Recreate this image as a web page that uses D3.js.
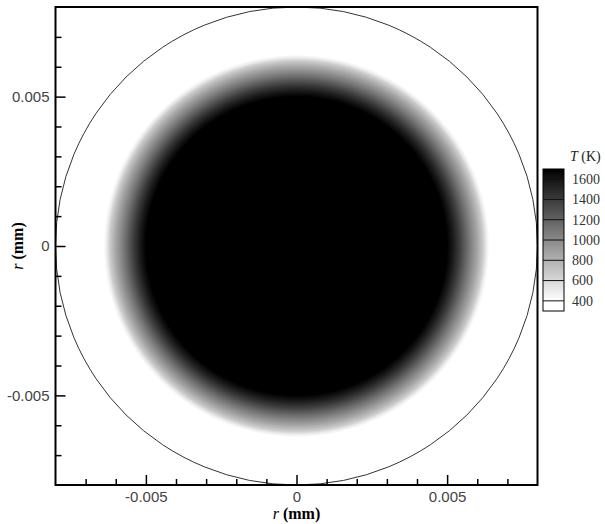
<!DOCTYPE html>
<html>
<head>
<meta charset="utf-8">
<script src="https://cdn.jsdelivr.net/npm/d3@7"></script>
<style>
  body { margin: 0; background: #fff; }
  svg { display: block; }
</style>
</head>
<body>
<div class="chart"></div>
<script>
// radial temperature profile (r in mm, T in K)
var profR = [0, 0.0050, 0.0052, 0.0054, 0.0057, 0.0060, 0.0062, 0.0063, 0.0064];
var profT = [1700, 1700, 1560, 1400, 1120, 860, 660, 500, 340];

// droplet outline radius
var outlineR = 0.008;

// axes
var majorTicks = [-0.005, 0, 0.005];
var minorTicks = [-0.007, -0.006, -0.004, -0.003, -0.002, -0.001,
                  0.001, 0.002, 0.003, 0.004, 0.006, 0.007];

// colour bar
var levels = [400, 600, 800, 1000, 1200, 1400, 1600];
var barMin = 300, barMax = 1700;

var W = 605, H = 524;
var pL = 55.5, pR = 537.5, pT = 7, pB = 485;

var x = d3.scaleLinear().domain([-0.008, 0.008]).range([pL, pR]);
var y = d3.scaleLinear().domain([-0.008, 0.008]).range([pB, pT]);
var color = d3.scaleLinear().domain([400, 1700]).range(["#ffffff", "#000000"]).clamp(true);

var fmt = function (d) { return d === 0 ? "0" : d3.format(".3f")(d).replace("\u2212", "-"); };

var svg = d3.select(".chart").append("svg")
  .attr("width", W)
  .attr("height", H);

var defs = svg.append("defs");

// temperature field as radial gradient
var rMax = d3.max(profR);
var rg = defs.append("radialGradient").attr("id", "field");
rg.selectAll("stop")
  .data(profR)
  .enter().append("stop")
  .attr("offset", function (d) { return d / rMax; })
  .attr("stop-color", function (d, i) { return color(profT[i]); });

svg.append("ellipse")
  .attr("cx", x(0))
  .attr("cy", y(0))
  .attr("rx", x(rMax) - x(0))
  .attr("ry", y(0) - y(rMax))
  .attr("fill", "url(#field)");

svg.append("ellipse")
  .attr("cx", x(0))
  .attr("cy", y(0))
  .attr("rx", x(outlineR) - x(0))
  .attr("ry", y(0) - y(outlineR))
  .attr("fill", "none")
  .attr("stroke", "#333")
  .attr("stroke-width", 1);

// axes, ticks pointing inward
function styleAxis(g) {
  g.select(".domain").remove();
  g.selectAll(".tick line").attr("stroke", "#000").attr("stroke-width", 1.5);
  g.selectAll(".tick text")
    .attr("fill", "#444")
    .style("font-family", "'Liberation Sans', Arial, sans-serif")
    .style("font-size", "15px");
}

svg.append("g")
  .attr("transform", "translate(" + pL + ",0)")
  .call(d3.axisLeft(y).tickValues(minorTicks).tickSizeInner(-6).tickFormat(""))
  .call(styleAxis);

svg.append("g")
  .attr("transform", "translate(" + pL + ",0)")
  .call(d3.axisLeft(y).tickValues(majorTicks).tickSizeInner(-10).tickPadding(6).tickFormat(fmt))
  .call(styleAxis);

svg.append("g")
  .attr("transform", "translate(0," + pB + ")")
  .call(d3.axisBottom(x).tickValues(minorTicks).tickSizeInner(-6).tickFormat(""))
  .call(styleAxis);

svg.append("g")
  .attr("transform", "translate(0," + pB + ")")
  .call(d3.axisBottom(x).tickValues(majorTicks).tickSizeInner(-10).tickPadding(6).tickFormat(fmt))
  .call(styleAxis);

// frame
svg.append("rect")
  .attr("x", pL)
  .attr("y", pT)
  .attr("width", pR - pL)
  .attr("height", pB - pT)
  .attr("fill", "none")
  .attr("stroke", "#000")
  .attr("stroke-width", 2);

// axis titles
var xt = svg.append("text")
  .attr("x", x(0))
  .attr("y", 519)
  .attr("text-anchor", "middle")
  .style("font-family", "'Liberation Serif', 'Times New Roman', serif")
  .style("font-size", "16px")
  .attr("fill", "#000");
xt.append("tspan").style("font-style", "italic").text("r");
xt.append("tspan").style("font-weight", "bold").text(" (mm)");

var yt = svg.append("text")
  .attr("transform", "translate(23," + y(0) + ") rotate(-90)")
  .attr("text-anchor", "middle")
  .style("font-family", "'Liberation Serif', 'Times New Roman', serif")
  .style("font-size", "16px")
  .attr("fill", "#000");
yt.append("tspan").style("font-style", "italic").text("r");
yt.append("tspan").style("font-weight", "bold").text(" (mm)");

// colour bar
var cbX = 543, cbW = 21;
var cb = d3.scaleLinear().domain([barMin, barMax]).range([311, 169]);

var lg = defs.append("linearGradient")
  .attr("id", "cbar")
  .attr("x1", 0).attr("y1", 1).attr("x2", 0).attr("y2", 0);
var cbStops = [barMin].concat(levels).concat([barMax]);
lg.selectAll("stop")
  .data(cbStops)
  .enter().append("stop")
  .attr("offset", function (d) { return (d - barMin) / (barMax - barMin); })
  .attr("stop-color", function (d) { return color(d); });

svg.append("rect")
  .attr("x", cbX)
  .attr("y", cb(barMax))
  .attr("width", cbW)
  .attr("height", cb(barMin) - cb(barMax))
  .attr("fill", "url(#cbar)")
  .attr("stroke", "#000")
  .attr("stroke-width", 1);

svg.selectAll(".lev")
  .data(levels)
  .enter().append("line")
  .attr("class", "lev")
  .attr("x1", cbX)
  .attr("x2", cbX + cbW)
  .attr("y1", function (d) { return cb(d); })
  .attr("y2", function (d) { return cb(d); })
  .attr("stroke", "#111")
  .attr("stroke-width", 1);

svg.selectAll(".levlab")
  .data(levels)
  .enter().append("text")
  .attr("class", "levlab")
  .attr("x", 572)
  .attr("y", function (d) { return cb(d); })
  .attr("dy", "0.35em")
  .style("font-family", "'Liberation Serif', 'Times New Roman', serif")
  .style("font-size", "14px")
  .attr("fill", "#333")
  .text(function (d) { return d; });

var ct = svg.append("text")
  .attr("x", 570)
  .attr("y", 161)
  .style("font-family", "'Liberation Serif', 'Times New Roman', serif")
  .style("font-size", "14px")
  .attr("fill", "#222");
ct.append("tspan").style("font-style", "italic").text("T");
ct.append("tspan").text(" (K)");
</script>
</body>
</html>
